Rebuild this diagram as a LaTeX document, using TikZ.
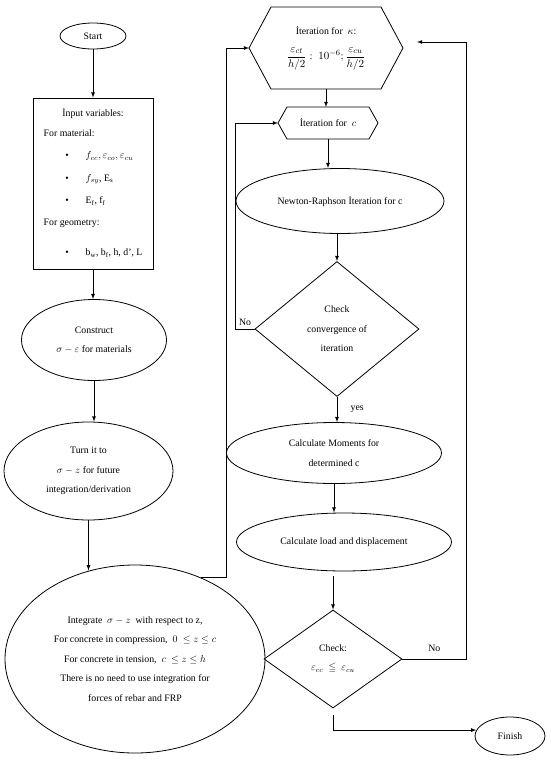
\documentclass[tikz,border=0pt]{standalone}
\usepackage{fontspec}
\setmainfont{Liberation Serif}
\usepackage{amsmath}
\usepackage{amssymb}
\usetikzlibrary{arrows}
\usetikzlibrary{shapes}
\usetikzlibrary{shapes.geometric}
\begin{document}
\begin{tikzpicture}[x=1pt, y=-1pt, line width=0.8pt,
  font=\fontsize{9.8}{19.5}\selectfont,
  term/.style={ellipse, draw=black, inner sep=0pt, align=center},
  decision/.style={diamond, draw=black, inner sep=0pt, align=center},
  hexbox/.style={rectangle, inner sep=0pt, outer sep=0pt, align=center}]
 \useasboundingbox (0,0) rectangle (550,761);
 % left column
 \node [term, minimum width=66, minimum height=26] (start) at (93,36) {Start};
 \node [rectangle, draw=black, minimum width=120, minimum height=171] (input) at (93,183.5) {};
 \node (inhead) at (93,113) {İnput variables:};
 \node [anchor=west] (mat) at (40,133) {For material:};
 \node [anchor=west] (geo) at (40,223) {For geometry:};
 \foreach \y/\t in {156/{$f_{cc}, \varepsilon_{co}, \varepsilon_{cu}$},
                    179/{$f_{sy}$, E\textsubscript{s}},
                    201/{E\textsubscript{f}, f\textsubscript{f}},
                    253/{b\textsubscript{w}, b\textsubscript{f}, h, d’, L}} {
   \node (dot\y) at (67,\y) {\textbullet};
   \node [anchor=west] (item\y) at (82,\y) {\t};
 }
 \node [term, minimum width=145, minimum height=81] (construct) at (94,340) {Construct\\$\sigma-\varepsilon$ for materials};
 \node [term, minimum width=169, minimum height=98] (turn) at (88.5,471) {Turn it to\\$\sigma-z$ for future\\integration/derivation};
 \node [term, minimum width=260, minimum height=188] (integ) at (135,659) {Integrate\ \ $\sigma-z$\ \ with respect to z,\\For concrete in compression,\ \ $0\ \leq z\leq c$\\For concrete in tension,\ \ $c\ \leq z\leq h$\\There is no need to use integration for\\forces of rebar and FRP};
 % right column
 \node [hexbox, minimum width=110, minimum height=82] (kappa) at (326,48) {İteration for\ \ $\kappa$:\\[6pt]{\fontsize{11}{13}\selectfont$\dfrac{\varepsilon_{ct}}{h/2}:\ 10^{-6};\dfrac{\varepsilon_{cu}}{h/2}$}};
 \node [hexbox, minimum width=82, minimum height=32] (iterc) at (328,123) {İteration for\ \ $c$};
 \foreach \n/\d in {kappa/22, iterc/9} {
   \draw ([xshift=-\d pt]\n.west) -- (\n.north west) -- (\n.north east) -- ([xshift=\d pt]\n.east) -- (\n.south east) -- (\n.south west) -- cycle;
   \coordinate (\n-l) at ([xshift=-\d pt]\n.west);
   \coordinate (\n-r) at ([xshift=\d pt]\n.east);
 }
 \coordinate (back) at ([xshift=14pt, yshift=6pt]kappa-r);
 \node [term, minimum width=208, minimum height=65] (newton) at (340,201) {Newton-Raphson İteration for c};
 \node [decision, minimum width=164, minimum height=135] (conv) at (337,329) {Check\\convergence of\\iteration};
 \node [term, minimum width=215, minimum height=61] (moments) at (334,453) {Calculate Moments for\\determined c};
 \node [term, minimum width=215, minimum height=58] (load) at (344,542) {Calculate load and displacement};
 \node [decision, minimum width=138, minimum height=98] (chk) at (333,659) {Check:\\$\varepsilon_{cc}\ \leqq\ \varepsilon_{cu}$};
 \node [term, minimum width=70, minimum height=38] (finish) at (510,736) {Finish};
 % connectors
 \draw [-latex] (start) -- (input);
 \draw [-latex] (input) -- (input.south |- construct.north);
 \draw [-latex] (construct.south) -- (construct.south |- turn.north);
 \draw [-latex] (turn.south) -- (turn.south |- integ.117);
 \draw [-latex] (integ.51) -- ++(25,0) |- (kappa-l);
 \draw [-latex] (kappa.south) -- (kappa.south |- iterc.north);
 \draw [-latex] (iterc.south) -- (iterc.south |- newton.north);
 \draw [-latex] (newton.south -| conv.north) -- (conv.north);
 \draw [-latex] (conv.west) -- node [above] {No} ++(-19,0) |- (iterc-l);
 \draw [-latex] (conv.south) -- node [right=10pt] {yes} (conv.south |- moments.north);
 \draw [-latex] (moments.south) -- (moments.south |- load.north);
 \draw [-latex, shorten <=5pt] (load.south -| chk.north) -- (chk.north);
 \draw [-latex] (chk.east) -- node [above, yshift=4pt] {No} ++(64,0) |- (back);
 \draw [-latex, shorten <=7pt] (chk.south) |- (finish.170);
\end{tikzpicture}
\end{document}
